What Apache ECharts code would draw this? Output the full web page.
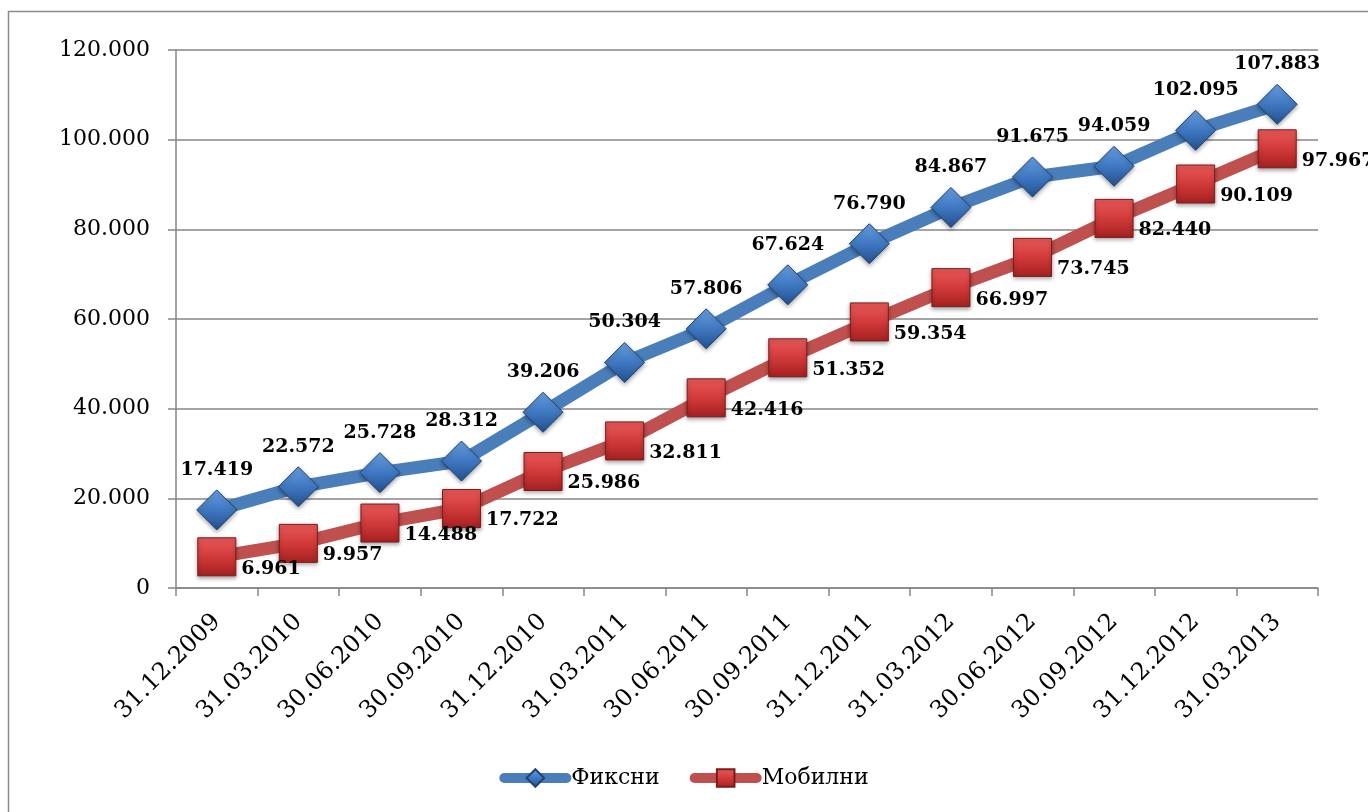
<!DOCTYPE html>
<html>
<head>
<meta charset="utf-8">
<script src="https://cdn.jsdelivr.net/npm/echarts@6/dist/echarts.min.js"></script>
<style>
html,body{margin:0;padding:0;background:#fff;}
#chart{width:1368px;height:812px;}
</style>
</head>
<body>
<div id="chart"></div>
<script>
// ---- data ----
const categories = ['31.12.2009','31.03.2010','30.06.2010','30.09.2010','31.12.2010','31.03.2011','30.06.2011','30.09.2011','31.12.2011','31.03.2012','30.06.2012','30.09.2012','31.12.2012','31.03.2013'];
const fixedName = 'Фиксни';
const mobileName = 'Мобилни';
const fixedValues = [17419, 22572, 25728, 28312, 39206, 50304, 57806, 67624, 76790, 84867, 91675, 94059, 102095, 107883];
const mobileValues = [6961, 9957, 14488, 17722, 25986, 32811, 42416, 51352, 59354, 66997, 73745, 82440, 90109, 97967];
const yTicks = [0, 20000, 40000, 60000, 80000, 100000, 120000];

// ---- helpers ----
function fmt(v){
  if (v === 0) return '0';
  const s = String(Math.round(v));
  return s.replace(/\B(?=(\d{3})+(?!\d))/g, '.');
}
const FONT = 'DejaVu Serif';

const chart = echarts.init(document.getElementById('chart'));
const option = {
  backgroundColor: '#ffffff',
  animation: false,
  graphic: [{
    type: 'rect',
    shape: {x: 8.5, y: 11.5, width: 1400, height: 900},
    style: {fill: 'none', stroke: '#8c8c8c', lineWidth: 1.5},
    silent: true, z: -10
  }],
  grid: {left: 176, right: 50, top: 50, bottom: 224, containLabel: false},
  legend: {
    bottom: 18,
    left: 'center',
    itemWidth: 62,
    itemHeight: 22,
    itemGap: 30,
    lineStyle: {width: 10, cap: 'round'},
    textStyle: {fontFamily: FONT, fontSize: 22, color: '#000'},
    data: [fixedName, mobileName]
  },
  xAxis: {
    type: 'category',
    data: categories,
    boundaryGap: true,
    axisLine: {lineStyle: {color: '#868686', width: 1.5}},
    axisTick: {show: true, length: 8, lineStyle: {color: '#868686', width: 1.5}},
    axisLabel: {rotate: 45, margin: 30, fontFamily: FONT, fontSize: 24, color: '#000', interval: 0}
  },
  yAxis: {
    type: 'value',
    min: yTicks[0],
    max: yTicks[yTicks.length - 1],
    interval: yTicks[1] - yTicks[0],
    axisLine: {show: true, lineStyle: {color: '#868686', width: 1.5}},
    axisTick: {show: true, length: 8, lineStyle: {color: '#868686', width: 1.5}},
    splitLine: {lineStyle: {color: '#868686', width: 1.5}},
    axisLabel: {margin: 26, fontFamily: FONT, fontSize: 22, color: '#000', formatter: fmt}
  },
  series: [
    {
      name: fixedName,
      type: 'line',
      data: fixedValues,
      symbol: 'diamond',
      symbolSize: 40,
      lineStyle: {color: '#4a7ebb', width: 13, cap: 'round'},
      itemStyle: {
        color: new echarts.graphic.LinearGradient(0, 0, 0, 1, [
          {offset: 0, color: '#6aa0e0'},
          {offset: 0.5, color: '#3f78c2'},
          {offset: 1, color: '#234f8c'}
        ]),
        borderColor: '#1f4474',
        borderWidth: 1,
        shadowColor: 'rgba(0,0,0,0.35)',
        shadowBlur: 4,
        shadowOffsetY: 2
      },
      label: {
        show: true,
        position: 'top',
        distance: 10,
        fontFamily: FONT,
        fontSize: 19,
        fontWeight: 'bold',
        color: '#000',
        formatter: p => fmt(p.value)
      },
      z: 3
    },
    {
      name: mobileName,
      type: 'line',
      data: mobileValues,
      symbol: 'rect',
      symbolSize: 38,
      lineStyle: {color: '#c0504d', width: 13, cap: 'round'},
      itemStyle: {
        color: new echarts.graphic.LinearGradient(0, 0, 0, 1, [
          {offset: 0, color: '#ea5a5a'},
          {offset: 0.5, color: '#d23a3a'},
          {offset: 1, color: '#a52020'}
        ]),
        borderColor: '#7a1c1c',
        borderWidth: 1,
        shadowColor: 'rgba(0,0,0,0.35)',
        shadowBlur: 4,
        shadowOffsetY: 2
      },
      label: {
        show: true,
        position: 'right',
        distance: 5,
        offset: [0, 12],
        fontFamily: FONT,
        fontSize: 19,
        fontWeight: 'bold',
        color: '#000',
        formatter: p => fmt(p.value)
      },
      z: 2
    }
  ]
};
chart.setOption(option);
</script>
</body>
</html>
